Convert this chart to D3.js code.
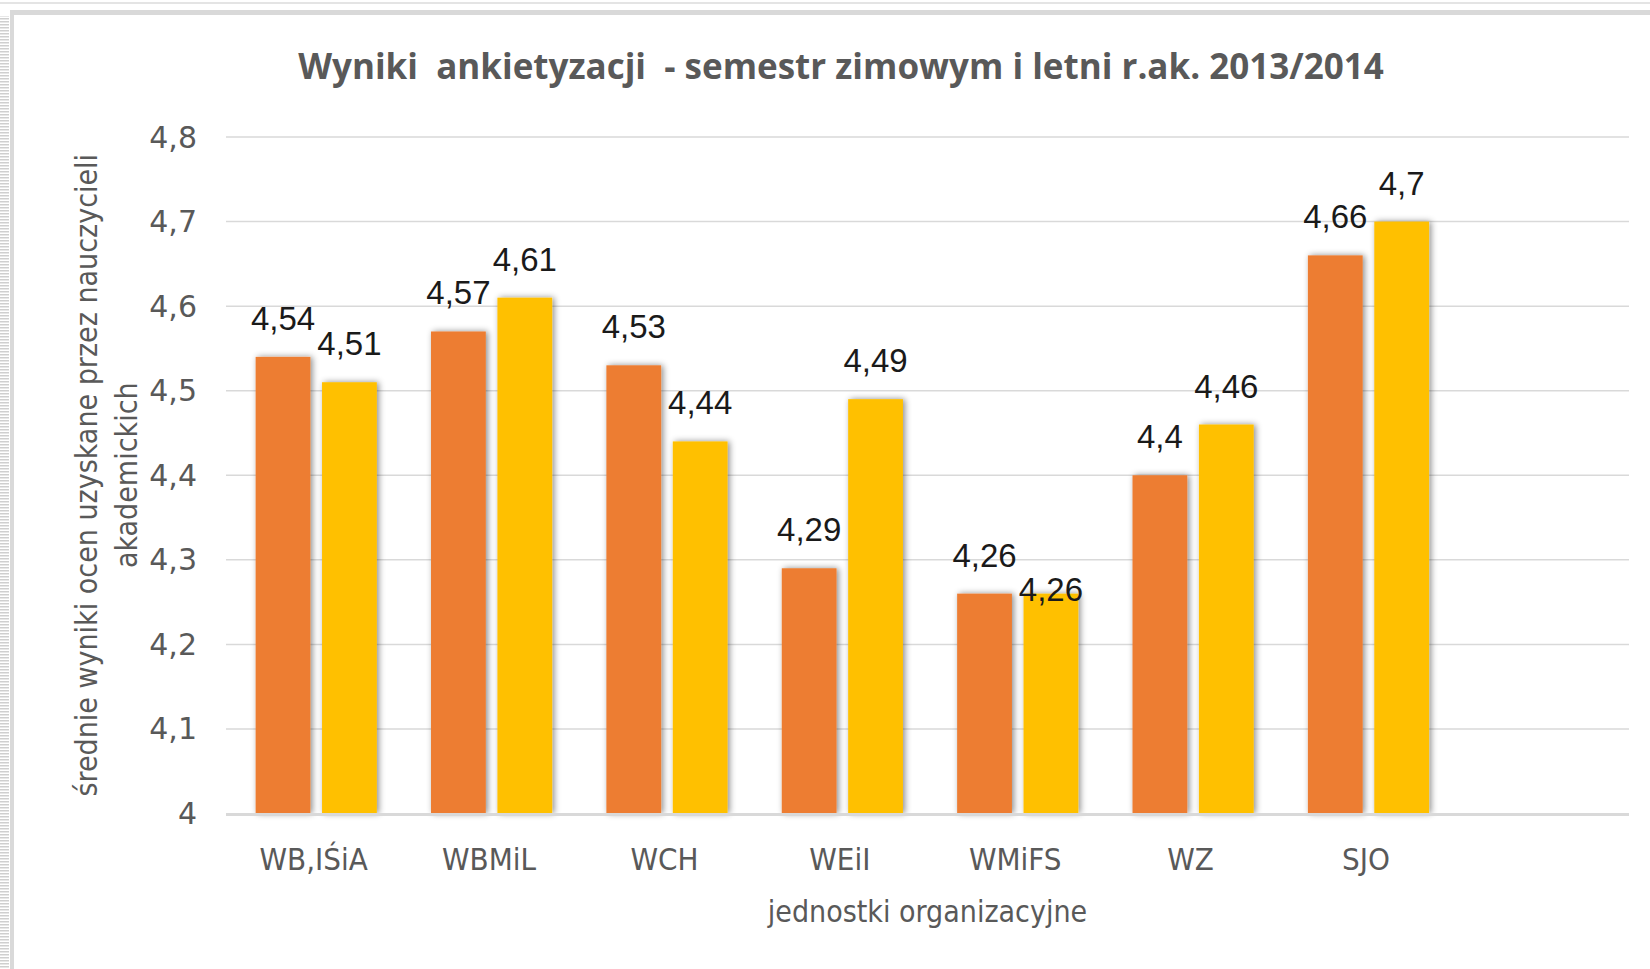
<!DOCTYPE html>
<html>
<head>
<meta charset="utf-8">
<script src="https://cdn.jsdelivr.net/npm/d3@7"></script>
<style>
  html, body { margin: 0; padding: 0; background: #fff; }
  svg { display: block; }
  .cond { font-family: "Liberation Sans Narrow", "DejaVu Sans Condensed", "Liberation Sans", sans-serif; font-stretch: condensed; }
</style>
</head>
<body>
<div id="vis"></div>
<script>
// wyniki ankietyzacji
var categories = ["WB,IŚiA", "WBMiL", "WCH", "WEiI", "WMiFS", "WZ", "SJO", ""];
var seriesNames = ["zimowy", "letni"];
var zimowy = [4.54, 4.57, 4.53, 4.29, 4.26, 4.40, 4.66];
var letni = [4.51, 4.61, 4.44, 4.49, 4.26, 4.46, 4.70];
var yTicks = [4, 4.1, 4.2, 4.3, 4.4, 4.5, 4.6, 4.7, 4.8];

var W = 1650, H = 969;
var plot = {left: 226, right: 1629, top: 137, bottom: 813.5};
var colors = {zimowy: "#ED7D31", letni: "#FFC000"};
var fmt = function(v) { return String(+v.toFixed(2)).replace(".", ","); };

var svg = d3.select("#vis").append("svg")
    .attr("width", W)
    .attr("height", H);

// frame around the chart area
var defs = svg.append("defs");
var pat = defs.append("pattern")
    .attr("id", "hatch")
    .attr("width", 10).attr("height", 3)
    .attr("patternUnits", "userSpaceOnUse");
pat.append("rect").attr("width", 10).attr("height", 3).attr("fill", "#fff");
pat.append("rect").attr("width", 10).attr("height", 1.5).attr("fill", "#cfcfcf");

var shadow = defs.append("filter").attr("id", "shadow")
    .attr("x", "-30%").attr("y", "-10%").attr("width", "160%").attr("height", "120%");
shadow.append("feDropShadow")
    .attr("dx", 2).attr("dy", 0)
    .attr("stdDeviation", 3)
    .attr("flood-color", "#000")
    .attr("flood-opacity", 0.45);

svg.append("rect").attr("x", 0).attr("y", 16).attr("width", 9).attr("height", H - 16).attr("fill", "url(#hatch)");
svg.append("line").attr("x1", 0).attr("x2", W).attr("y1", 3).attr("y2", 3)
    .attr("stroke", "#e4e4e4").attr("stroke-width", 2);
svg.append("line").attr("x1", 10).attr("x2", W).attr("y1", 12.5).attr("y2", 12.5)
    .attr("stroke", "#d9d9d9").attr("stroke-width", 5);
svg.append("line").attr("x1", 12).attr("x2", 12).attr("y1", 10).attr("y2", H)
    .attr("stroke", "#d9d9d9").attr("stroke-width", 4);

var x0 = d3.scaleBand()
    .domain(categories)
    .range([plot.left, plot.right])
    .paddingInner(0)
    .paddingOuter(0);

var x1 = d3.scaleBand()
    .domain(seriesNames)
    .range([x0.bandwidth() * 0.169, x0.bandwidth() * 0.86])
    .paddingInner(0.175);

var y = d3.scaleLinear()
    .domain([4, 4.8])
    .range([plot.bottom, plot.top]);

// gridlines
svg.append("g")
    .selectAll("line")
    .data(yTicks.slice(1))
    .enter().append("line")
    .attr("x1", plot.left).attr("x2", plot.right)
    .attr("y1", function(d) { return y(d); })
    .attr("y2", function(d) { return y(d); })
    .attr("stroke", "#d9d9d9")
    .attr("stroke-width", 1.5);

// y tick labels
svg.append("g")
    .selectAll("text")
    .data(yTicks)
    .enter().append("text")
    .attr("x", 197)
    .attr("y", function(d) { return y(d); })
    .attr("dy", "0.35em")
    .attr("text-anchor", "end")
    .attr("font-family", "DejaVu Sans, sans-serif")
    .attr("font-size", 30)
    .attr("fill", "#595959")
    .text(function(d) { return fmt(d); });

// bars
var rows = [];
categories.forEach(function(c, i) {
    if (zimowy[i] == null) return;
    rows.push({cat: c, key: "zimowy", value: zimowy[i]});
    rows.push({cat: c, key: "letni", value: letni[i]});
});

svg.append("g")
    .selectAll("rect")
    .data(rows)
    .enter().append("rect")
    .attr("x", function(d) { return x0(d.cat) + x1(d.key); })
    .attr("width", x1.bandwidth())
    .attr("y", function(d) { return y(d.value); })
    .attr("height", function(d) { return y(4) - y(d.value); })
    .attr("fill", function(d) { return colors[d.key]; })
    .attr("filter", "url(#shadow)");

// baseline
svg.append("line")
    .attr("x1", plot.left).attr("x2", plot.right)
    .attr("y1", y(4) + 1).attr("y2", y(4) + 1)
    .attr("stroke", "#d9d9d9")
    .attr("stroke-width", 3);

// data labels
var labelSize = 33;
var labels = svg.append("g").selectAll("text")
    .data(rows)
    .enter().append("text")
    .attr("x", function(d) { return x0(d.cat) + x1(d.key) + x1.bandwidth() / 2; })
    .attr("y", function(d) { return y(d.value) - 27; })
    .attr("text-anchor", "middle")
    .attr("font-family", "Liberation Sans, Arial, sans-serif")
    .attr("font-size", labelSize)
    .attr("fill", "#1a1a1a")
    .text(function(d) { return fmt(d.value); });

// push a label down when it sits on the same line as its neighbour and nearly touches it
labels.each(function(d, i) {
    if (d.key !== "letni") return;
    var prev = labels.nodes()[i - 1];
    var a = prev.getBBox(), b = this.getBBox();
    var nearX = a.x + a.width + 6 > b.x;
    var sameLine = Math.abs(+d3.select(prev).attr("y") - +d3.select(this).attr("y")) < labelSize * 0.5;
    if (nearX && sameLine) {
        d3.select(this).attr("y", +d3.select(this).attr("y") + labelSize * 1.05);
    }
});

// category labels
svg.append("g")
    .selectAll("text")
    .data(categories)
    .enter().append("text")
    .attr("class", "cond")
    .attr("x", function(d) { return x0(d) + x0.bandwidth() / 2; })
    .attr("y", 859)
    .attr("dy", "0.35em")
    .attr("text-anchor", "middle")
    .attr("font-size", 31)
    .attr("fill", "#595959")
    .text(function(d) { return d; });

// titles
svg.append("text")
    .attr("x", 841)
    .attr("y", 67)
    .attr("dy", "0.35em")
    .attr("text-anchor", "middle")
    .attr("font-family", "Open Sans, sans-serif")
    .attr("font-weight", "bold")
    .attr("font-size", 35)
    .attr("fill", "#595959")
    .attr("xml:space", "preserve")
    .text("Wyniki  ankietyzacji  - semestr zimowym i letni r.ak. 2013/2014");

svg.append("text")
    .attr("class", "cond")
    .attr("x", (plot.left + plot.right) / 2)
    .attr("y", 911)
    .attr("dy", "0.35em")
    .attr("text-anchor", "middle")
    .attr("font-size", 30)
    .attr("fill", "#595959")
    .text("jednostki organizacyjne");

var yTitle = svg.append("text")
    .attr("class", "cond")
    .attr("transform", "translate(0," + ((plot.top + plot.bottom) / 2) + ") rotate(-90)")
    .attr("text-anchor", "middle")
    .attr("font-size", 30)
    .attr("fill", "#595959");
yTitle.append("tspan").attr("x", 0).attr("y", 86).attr("dy", "0.35em")
    .text("średnie wyniki ocen uzyskane przez nauczycieli");
yTitle.append("tspan").attr("x", 0).attr("y", 126).attr("dy", "0.35em")
    .text("akademickich");
</script>
</body>
</html>
